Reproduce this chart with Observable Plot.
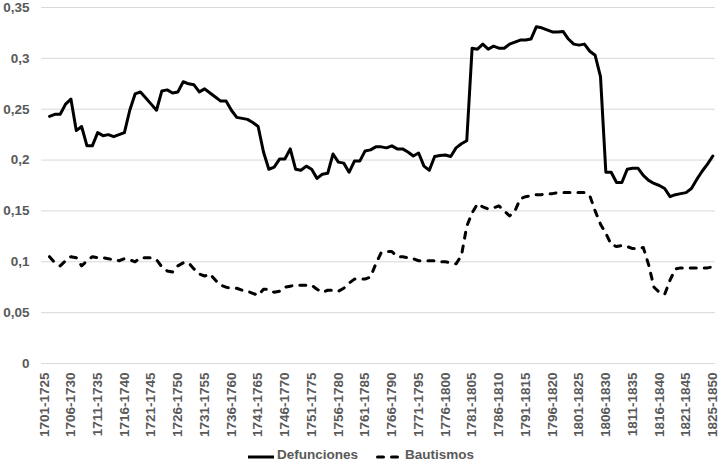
<!DOCTYPE html>
<html>
<head>
<meta charset="utf-8">
<script src="https://cdn.jsdelivr.net/npm/d3@7"></script>
<script src="https://cdn.jsdelivr.net/npm/@observablehq/plot@0.6"></script>
<style>
  html, body { margin: 0; padding: 0; background: #fff; }
  #wrap { position: relative; width: 719px; height: 463px; font-family: "Liberation Sans", Arial, sans-serif; }
  #legend { position: absolute; left: 0; top: 442px; width: 719px; height: 21px; font: bold 13.5px "Liberation Sans", Arial, sans-serif; color: #595959; }
  #legend .item { position: absolute; top: 5px; line-height: 16px; white-space: nowrap; }
  #legend svg { position: absolute; }
</style>
</head>
<body>
<div id="wrap">
  <div id="chart"></div>
  <div id="legend"></div>
</div>
<script>
// 25-year moving windows (126 categories), labelled every 5th
const tickLabels = ["1701-1725","1706-1730","1711-1735","1716-1740","1721-1745","1726-1750","1731-1755","1736-1760","1741-1765","1746-1770","1751-1775","1756-1780","1761-1785","1766-1790","1771-1795","1776-1800","1781-1805","1786-1810","1791-1815","1796-1820","1801-1825","1806-1830","1811-1835","1816-1840","1821-1845","1825-1850"];
const categories = d3.range(126).map(i => i === 125 ? "1825-1850" : `${1701 + i}-${1725 + i}`);

const defunciones = [null,
  0.243,0.245,0.245,0.255,0.260,0.229,0.233,0.214,0.214,0.227,
  0.224,0.225,0.223,0.225,0.227,0.249,0.265,0.267,0.261,0.255,
  0.249,0.268,0.269,0.266,0.267,0.277,0.275,0.274,0.267,0.270,
  0.266,0.262,0.258,0.258,0.249,0.242,0.241,0.240,0.237,0.233,
  0.208,0.191,0.193,0.201,0.201,0.211,0.191,0.190,0.194,0.191,
  0.182,0.186,0.187,0.206,0.198,0.197,0.188,0.199,0.199,0.209,
  0.210,0.213,0.213,0.212,0.214,0.211,0.211,0.208,0.204,0.207,
  0.194,0.190,0.2035,0.2045,0.205,0.2035,0.212,0.216,0.219,0.310,
  0.309,0.314,0.309,0.312,0.310,0.310,0.314,0.316,0.318,0.318,
  0.319,0.331,0.330,0.328,0.326,0.326,0.3265,0.319,0.314,0.313,
  0.314,0.307,0.303,0.282,0.188,0.188,0.178,0.178,0.191,0.192,
  0.192,0.185,0.180,0.177,0.175,0.172,0.164,0.166,0.167,0.168,
  0.172,0.181,0.189,0.196,0.204];

const bautismos = [null,
  0.105,0.099,0.096,0.101,0.105,0.104,0.096,0.101,0.105,0.104,
  0.104,0.103,0.102,0.101,0.103,0.102,0.100,0.104,0.104,0.104,
  0.102,0.095,0.091,0.090,0.096,0.099,0.099,0.093,0.088,0.086,
  0.088,0.082,0.077,0.075,0.074,0.074,0.072,0.071,0.069,0.067,
  0.073,0.073,0.070,0.071,0.075,0.076,0.077,0.077,0.077,0.077,
  0.073,0.070,0.072,0.072,0.071,0.074,0.079,0.083,0.083,0.083,
  0.085,0.098,0.109,0.110,0.110,0.105,0.105,0.104,0.103,0.101,
  0.101,0.101,0.101,0.100,0.100,0.099,0.098,0.106,0.135,0.148,
  0.157,0.154,0.152,0.153,0.155,0.150,0.145,0.150,0.162,0.164,
  0.165,0.166,0.166,0.167,0.167,0.168,0.168,0.168,0.168,0.168,
  0.168,0.165,0.150,0.137,0.128,0.117,0.115,0.116,0.115,0.113,
  0.113,0.114,0.097,0.075,0.070,0.068,0.082,0.093,0.094,0.094,
  0.094,0.094,0.094,0.094,0.095];

const yTicks = [0, 0.05, 0.1, 0.15, 0.2, 0.25, 0.3, 0.35];
const seriesNames = ["Defunciones", "Bautismos"];

const rows = categories.map((c, i) => ({c, def: defunciones[i], bau: bautismos[i]}));
const tickCats = categories.filter((c, i) => i % 5 === 0);

const chart = Plot.plot({
  width: 719,
  height: 442,
  marginLeft: 41,
  marginRight: 4,
  marginTop: 7,
  marginBottom: 79,
  style: {fontFamily: '"Liberation Sans", Arial, sans-serif', fontSize: "13.5px", fontWeight: "bold", background: "#fff", color: "#595959"},
  x: {type: "point", domain: categories, padding: 0.5, label: null},
  y: {domain: [0, 0.35], label: null},
  marks: [
    Plot.ruleY(yTicks, {stroke: "#d9d9d9", strokeWidth: 1}),
    Plot.axisY({ticks: yTicks, tickSize: 0, tickPadding: 12, label: null, fill: "#595959",
      tickFormat: d => String(d).replace(".", ",")}),
    Plot.axisX({ticks: tickCats, tickSize: 0, tickPadding: 9, tickRotate: -90, label: null, fill: "#595959",
      tickFormat: (d) => tickLabels[tickCats.indexOf(d)]}),
    Plot.line(rows, {x: "c", y: "bau", stroke: "#000", strokeWidth: 3, strokeDasharray: "6,8", strokeLinecap: "round", strokeLinejoin: "round"}),
    Plot.line(rows, {x: "c", y: "def", stroke: "#000", strokeWidth: 3, strokeLinejoin: "round"})
  ]
});
document.getElementById("chart").appendChild(chart);

// legend
const legend = document.getElementById("legend");
legend.innerHTML = `
  <svg width="28" height="6" style="left:247px;top:12px"><line x1="1" y1="3" x2="27" y2="3" stroke="#000" stroke-width="3"/></svg>
  <span class="item" style="left:277px">${seriesNames[0]}</span>
  <svg width="26" height="6" style="left:374px;top:12px"><line x1="3.5" y1="3" x2="24" y2="3" stroke="#000" stroke-width="3" stroke-dasharray="6,8" stroke-linecap="round"/></svg>
  <span class="item" style="left:405px">${seriesNames[1]}</span>`;
</script>
</body>
</html>
